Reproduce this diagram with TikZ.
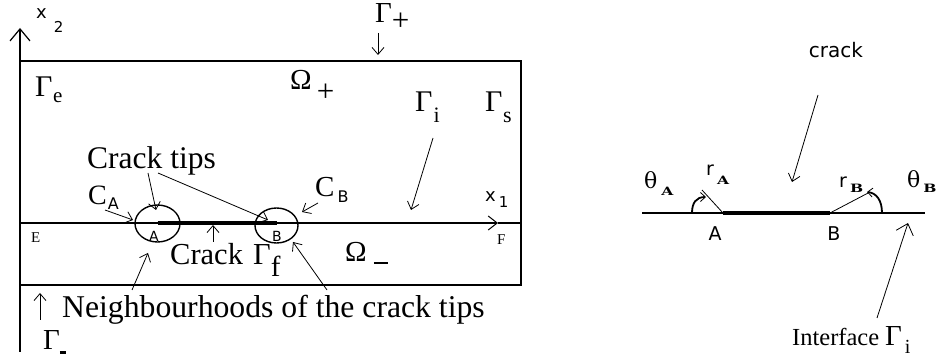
\documentclass[tikz,border=0pt]{standalone}
\usepackage{fontspec}
\usepackage{graphicx}
\setmainfont{Liberation Serif}
\newfontfamily\sff{DejaVu Sans}
\newfontfamily\dser{DejaVu Serif}
\usetikzlibrary{arrows.meta,shapes.geometric}
\newcommand\fsz[1]{\fontsize{#1}{#1}\selectfont}
\newcommand\wsub[1]{{\dser\bfseries\fsz{11.5}\scalebox{1.35}[1]{#1}}}
\begin{document}
\begin{tikzpicture}[x=1pt,y=-1pt,
  lbl/.style={inner sep=0pt, anchor=base west},
  ctr/.style={inner sep=0pt},
  frame/.style={line width=1.4pt},
  arr/.style={line width=0.8pt, -{Straight Barb[length=7pt,width=12pt,line width=0.8pt]}},
  bigarr/.style={line width=1.4pt, -{Straight Barb[length=12pt,width=20pt,line width=1.2pt]}},
  tip/.style={ellipse, draw, line width=1.4pt, inner sep=0pt},
  arcarr/.style={line width=1.8pt, -{Straight Barb[length=5pt,width=9pt,line width=0.8pt]}},
]
\useasboundingbox (0,0) rectangle (938,358);

% ---------------- left figure ----------------
\coordinate (axb) at (20,352);
\coordinate (axt) at (20,28);
\coordinate (tl) at (20,61);
\coordinate (tr) at (521,61);
\coordinate (br) at (521,285);
\coordinate (bl) at (20,285);
\coordinate (E0) at (20,223);
\coordinate (x1tip) at (498,223);
\coordinate (Fend) at (521,223);

\draw[bigarr] (axb) -- (axt);
\draw[frame] (tl) -- (tr) -- (br) -- (bl);
\draw[line width=1.4pt, -{Straight Barb[length=9pt,width=14pt,line width=1pt]}] (E0) -- (x1tip);
\draw[frame] (x1tip) -- (Fend);

\node[tip, minimum width=45pt, minimum height=37pt] (tipA) at (157.5,223.5) {};
\node[tip, minimum width=43pt, minimum height=35pt] (tipB) at (276.5,225.5) {};
\coordinate (cka) at (157.5,223);
\coordinate (ckb) at (276.5,223);
\draw[line width=3.2pt] (cka) -- (ckb);

% labels
\node[lbl] (x2) at (36,19) {\sff\fsz{18}x\hspace{7pt}\raisebox{-14pt}{\fsz{15}2}};
\node[lbl] (Gp) at (375,23) {\fsz{29}Γ\hspace{0pt}\raisebox{-8pt}{\fsz{31}+}};
\node[lbl] (Ge) at (35,97) {\fsz{30}Γ\hspace{0.5pt}\raisebox{-6pt}{\fsz{21}e}};
\node[lbl] (Op) at (290,90) {\fsz{29}Ω\hspace{5pt}\raisebox{-12pt}{\fsz{31}+}};
\node[lbl] (Gi) at (415,112) {\fsz{30}Γ\hspace{1pt}\raisebox{-11pt}{\fsz{22}i}};
\node[lbl] (Gs) at (485,112) {\fsz{30}Γ\hspace{0.5pt}\raisebox{-11pt}{\fsz{22}s}};
\node[lbl] (tips) at (87,169) {\fsz{31.5}Crack tips};
\node[lbl] (CA) at (88,205) {\fsz{28}C\hspace{1pt}\raisebox{-5pt}{\sff\fsz{16}A}};
\node[lbl] (CB) at (315,197) {\fsz{29}C\hspace{3pt}\raisebox{-6pt}{\sff\fsz{16}B}};
\node[lbl] (x1) at (485,202) {\sff\fsz{18}x\hspace{3pt}\raisebox{-6pt}{\fsz{15}1}};
\node[lbl] (E) at (31,243) {\fsz{15}E};
\node[lbl] (F) at (497,245) {\fsz{15}F};
\node[ctr] (A) at (154,236) {\sff\fsz{14}A};
\node[ctr] (B) at (277,236) {\sff\fsz{14}B};
\node[lbl] (crk) at (170,265) {\fsz{30.5}\makebox[83pt][l]{Crack}Γ\hspace{0pt}\raisebox{-12pt}{\fsz{29}f}};
\node[lbl] (Om) at (345,262) {\fsz{29}Ω\hspace{7pt}\raisebox{-2.5pt}{\rule{14pt}{2.2pt}}};
\node[lbl] (nbh) at (62,318) {\fsz{31.7}Neighbourhoods of the crack tips};
\node[lbl] (Gm) at (43,350) {\fsz{29}Γ\hspace{0pt}\raisebox{-4pt}{\rule{6pt}{3pt}}};

% arrows
\coordinate (gp0) at (378,33);  \coordinate (gp1) at (378,55);
\coordinate (gi0) at (433,138); \coordinate (gi1) at (411,210);
\coordinate (ta0) at (148,173); \coordinate (ta1) at (156,210);
\coordinate (tb0) at (158,173); \coordinate (tb1) at (268,220);
\coordinate (ca0) at (105,210); \coordinate (ca1) at (133,220);
\coordinate (cb0) at (318,203); \coordinate (cb1) at (302,212);
\coordinate (cr0) at (213,242); \coordinate (cr1) at (213,225);
\coordinate (na0) at (132,290); \coordinate (na1) at (148,253);
\coordinate (nb0) at (327,290); \coordinate (nb1) at (293,242);
\coordinate (gm0) at (40,320);  \coordinate (gm1) at (40,293);
\draw[arr] (gp0) -- (gp1);
\draw[arr] (gi0) -- (gi1);
\draw[arr] (ta0) -- (ta1);
\draw[arr] (tb0) -- (tb1);
\draw[arr] (ca0) -- (ca1);
\draw[arr] (cb0) -- (cb1);
\draw[arr] (cr0) -- (cr1);
\draw[arr] (na0) -- (na1);
\draw[arr] (nb0) -- (nb1);
\draw[arr] (gm0) -- (gm1);

% ---------------- right figure ----------------
\coordinate (L0) at (642,213);
\coordinate (L1) at (925,213);
\coordinate (RA) at (723,213);
\coordinate (RB) at (830,213);
\coordinate (rAe) at (702,190);
\coordinate (rBe) at (870,192);
\coordinate (aA0) at (692,213); \coordinate (aA1) at (706,197);
\coordinate (aB0) at (882,213); \coordinate (aB1) at (867,192);
\draw[line width=1.4pt] (L0) -- (L1);
\draw[line width=3.6pt] (RA) -- (RB);
\draw[line width=0.8pt] (RA) -- (rAe);
\draw[line width=0.8pt] (RB) -- (rBe);
\draw[arcarr] (aA0) .. controls (692,203) and (696,197) .. (aA1);
\draw[arcarr] (aB0) .. controls (882,201) and (877,193) .. (aB1);

\node[ctr] (crackR) at (836,50) {\sff\fsz{20}crack};
\coordinate (cR0) at (818,95); \coordinate (cR1) at (792,182);
\draw[arr] (cR0) -- (cR1);
\node[ctr] (RAl) at (715,234) {\sff\fsz{19}A};
\node[ctr] (RBl) at (834,234) {\sff\fsz{19}B};
\node[lbl] (thA) at (644,189) {\dser\fsz{22}θ\hspace{4pt}\raisebox{-7pt}{\wsub{A}}};
\node[lbl] (rA) at (706,176) {\sff\fsz{19}r\hspace{3pt}\raisebox{-9pt}{\wsub{A}}};
\node[lbl] (rB) at (839,188) {\sff\fsz{19}r\hspace{3pt}\raisebox{-5pt}{\wsub{B}}};
\node[lbl] (thB) at (907,188) {\dser\fsz{22}θ\hspace{3pt}\raisebox{-5pt}{\wsub{B}}};
\node[lbl] (intf) at (792,345) {\makebox[93pt][l]{\fsz{24.5}Interface}\fsz{29}Γ\hspace{3pt}\raisebox{-8pt}{\fsz{20}i}};
\coordinate (if0) at (877,318); \coordinate (if1) at (908,223);
\draw[line width=0.8pt, -{Straight Barb[length=10pt,width=18pt,line width=0.8pt]}] (if0) -- (if1);
\end{tikzpicture}
\end{document}
